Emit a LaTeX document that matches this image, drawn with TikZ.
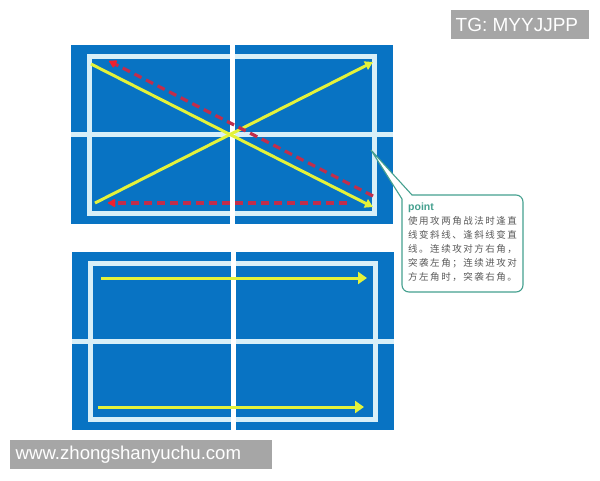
\documentclass[tikz,border=0pt]{standalone}
\usepackage{fontspec}
\setmainfont{Liberation Sans}
\newfontfamily\cjk[LetterSpace=16]{Noto Sans CJK SC}
\usetikzlibrary{arrows.meta}
\definecolor{courtblue}{HTML}{0873C3}
\definecolor{courtline}{HTML}{D8EFF8}
\definecolor{yel}{HTML}{E4F23A}
\definecolor{redd}{HTML}{C02E4C}
\definecolor{redtip}{HTML}{F0202C}
\definecolor{tealc}{HTML}{45A08F}
\definecolor{wmgray}{HTML}{A6A6A6}
\definecolor{notegray}{HTML}{5A5A5A}
\tikzset{
  court/.style={fill=courtblue},
  courtlines/.style={draw=courtline, line width=5pt},
  netgap/.style={fill=white},
  yelline/.style={draw=yel, line width=3pt, -{Triangle[length=8pt,width=9pt]}},
  yelarrow/.style={draw=yel, line width=3pt, -{Triangle[length=9pt,width=12pt]}},
  reddash/.style={draw=redd, line width=3.2pt, dash pattern=on 8pt off 5pt, -{Latex[length=9pt,width=10pt,fill=redtip,color=redtip,round]}},
  callout/.style={draw=tealc, fill=white, line width=1.1pt},
  notetxt/.style={anchor=base west, inner sep=0pt, text=notegray, font=\cjk\fontsize{9.5}{12}\selectfont},
  wmbox/.style={fill=wmgray},
  wmtxt/.style={anchor=west, inner sep=0pt, text=white},
}
\begin{document}
\begin{tikzpicture}[x=1pt,y=-1pt]
\useasboundingbox (0,0) rectangle (600,480);
\fill[white] (0,0) rectangle (600,480);

% ---------- top court ----------
\fill[court] (71,45) rectangle (393,224);
\draw[courtlines] (89.5,56) rectangle (374.5,213);
\draw[courtlines] (71,134.5) -- (393,134.5);
\fill[netgap] (229.5,45) rectangle (235,224);

\coordinate (a1) at (91,64);
\coordinate (a2) at (373,207);
\coordinate (b1) at (95,203);
\coordinate (b2) at (373,62);
\coordinate (r1s) at (373,196);
\coordinate (r1e) at (109,61);
\coordinate (r2s) at (347,203);
\coordinate (r2e) at (108,203);
\draw[yelline] (a1) -- (a2);
\draw[yelline] (b1) -- (b2);
\draw[reddash] (r1s) -- (r1e);
\draw[reddash] (r2s) -- (r2e);

% ---------- bottom court ----------
\fill[court] (72,252) rectangle (394,430);
\draw[courtlines] (90.5,263.5) rectangle (375,419.5);
\draw[courtlines] (72,341.5) -- (394,341.5);
\fill[netgap] (230.5,252) rectangle (235.5,430);

\coordinate (c1) at (101,278);
\coordinate (c2) at (367,278);
\coordinate (d1) at (98,407);
\coordinate (d2) at (364,407);
\draw[yelarrow] (c1) -- (c2);
\draw[yelarrow] (d1) -- (d2);

% ---------- callout ----------
\filldraw[callout] (371,150) -- (412,195) [rounded corners=7pt] -- (523,195) -- (523,292) -- (402,292) [sharp corners] -- (402,199) -- cycle;
\node[anchor=base west, inner sep=0pt, text=tealc, font=\bfseries\fontsize{10.5}{12}\selectfont] (pt) at (408,210) {point};
\node[notetxt] (l1) at (408,224.6) {使用攻两角战法时逢直};
\node[notetxt] (l2) at (408,238.6) {线变斜线、逢斜线变直};
\node[notetxt] (l3) at (408,252.6) {线。连续攻对方右角，};
\node[notetxt] (l4) at (408,266.6) {突袭左角；连续进攻对};
\node[notetxt] (l5) at (408,280.6) {方左角时，突袭右角。};

% ---------- watermarks ----------
\fill[wmbox] (451,10) rectangle (589,39);
\node[wmtxt, font=\fontsize{19}{22}\selectfont] (tg) at (455.5,24.5) {TG: MYYJJPP};
\fill[wmbox] (10,440) rectangle (272,469);
\node[wmtxt, font=\fontsize{18.6}{22}\selectfont] (www) at (15.5,454.5) {www.zhongshanyuchu.com};
\end{tikzpicture}
\end{document}
